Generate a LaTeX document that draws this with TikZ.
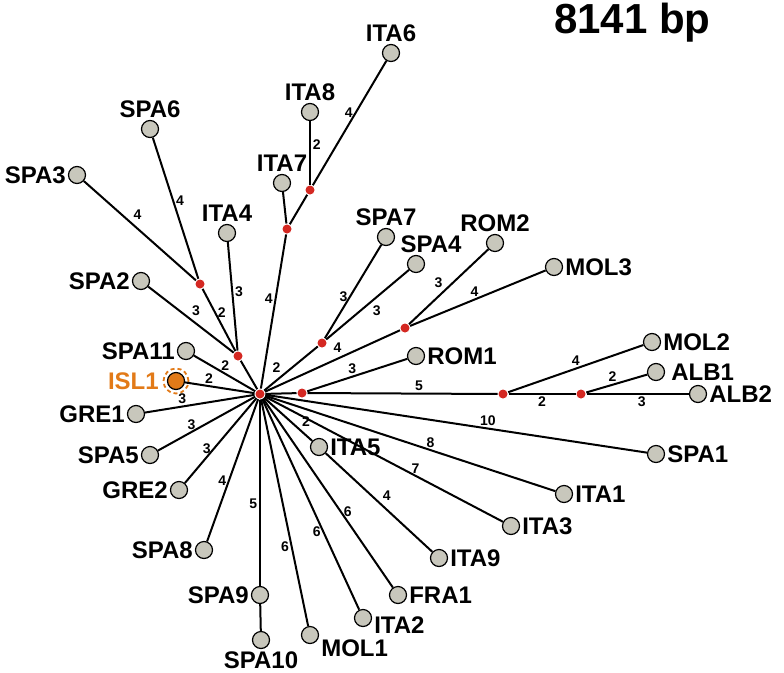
\documentclass[tikz,border=0pt]{standalone}
\usepackage{fontspec}
\setmainfont{Liberation Sans}
\definecolor{hapgray}{RGB}{200,199,188}
\definecolor{medred}{RGB}{212,40,34}
\definecolor{islorange}{RGB}{226,122,24}
\begin{document}
\begin{tikzpicture}[x=1pt, y=-1pt, line width=2pt,
		hap/.style={circle, draw, line width=1.2pt, fill=hapgray, minimum size=17pt, inner sep=0pt},
		med/.style={circle, fill=medred, minimum size=9pt, inner sep=0pt},
		el/.style={font=\fontsize{14}{16}\selectfont\bfseries, inner sep=1.8pt},
		every label/.style={font=\fontsize{24}{27}\selectfont\bfseries, inner sep=1.2pt}]
	\useasboundingbox (0,0) rectangle (784,672);
	\node[font=\fontsize{42}{46}\selectfont\bfseries, anchor=base west, inner sep=0pt] (title) at (553,33) {8141 bp};
	% haplotypes
	\node[hap, label=above:ITA6] (ita6) at (391,53) {};
	\node[hap, label=above:ITA8] (ita8) at (310,112) {};
	\node[hap, label=above:ITA7] (ita7) at (282,183) {};
	\node[hap, label=above:SPA6] (spa6) at (150,129) {};
	\node[hap, label=left:SPA3] (spa3) at (77,175) {};
	\node[hap, label=above:ITA4] (ita4) at (227,233) {};
	\node[hap, label=above:SPA7] (spa7) at (386,237) {};
	\node[hap, label={[xshift=15pt]above:SPA4}] (spa4) at (416,264) {};
	\node[hap, label=above:ROM2] (rom2) at (495,243) {};
	\node[hap, label=right:MOL3] (mol3) at (554,267) {};
	\node[hap, label=left:SPA2] (spa2) at (141,281) {};
	\node[hap, label=left:SPA11] (spa11) at (186,351) {};
	\node[hap, fill=islorange, label={[text=islorange, xshift=-6pt]left:ISL1}] (isl1) at (176,381) {};
	\node[hap, label=left:GRE1] (gre1) at (136,414) {};
	\node[hap, label=left:SPA5] (spa5) at (150,455) {};
	\node[hap, label=left:GRE2] (gre2) at (179,490) {};
	\node[hap, label=left:SPA8] (spa8) at (204,550) {};
	\node[hap, label=left:SPA9] (spa9) at (260,595) {};
	\node[hap, label=below:SPA10] (spa10) at (261,640) {};
	\node[hap, label={[yshift=-13pt]right:MOL1}] (mol1) at (310,635) {};
	\node[hap, label={[yshift=-7pt]right:ITA2}] (ita2) at (363,618) {};
	\node[hap, label=right:FRA1] (fra1) at (398,595) {};
	\node[hap, label=right:ITA9] (ita9) at (439,558) {};
	\node[hap, label=right:ITA3] (ita3) at (511,526) {};
	\node[hap, label=right:ITA1] (ita1) at (564,494) {};
	\node[hap, label=right:SPA1] (spa1) at (656,454) {};
	\node[hap, label=right:ITA5] (ita5) at (319,447) {};
	\node[hap, label=right:ROM1] (rom1) at (416,356) {};
	\node[hap, label=right:MOL2] (mol2) at (652,342) {};
	\node[hap, label={[xshift=4pt]right:ALB1}] (alb1) at (656,372) {};
	\node[hap, label=right:ALB2] (alb2) at (698,394) {};
	\draw[islorange, line width=1.8pt, dash pattern=on 4pt off 3pt] (isl1) circle (12.5pt);
	% median vectors
	\node[med] (hub) at (260,394) {};
	\node[med] (m1) at (287,229) {};
	\node[med] (m2) at (310,190) {};
	\node[med] (m3) at (238,356) {};
	\node[med] (m4) at (200,284) {};
	\node[med] (m5) at (302,393) {};
	\node[med] (m6) at (503,394) {};
	\node[med] (m7) at (581,394) {};
	\node[med] (m8) at (322,343) {};
	\node[med] (m9) at (405,328) {};
	% links
	\draw (hub) -- node[el, pos=.58, left] {4} (m1);
	\draw (m1) -- (ita7);
	\draw (m1) -- (m2);
	\draw (m2) -- node[el, pos=.63, right] {2} (ita8);
	\draw (m2) -- node[el, pos=.58, left] {4} (ita6);
	\draw (hub) -- (m3);
	\draw (m3) -- node[el, pos=.62, right] {2} (m4);
	\draw (m3) -- node[el, pos=.54, right] {3} (ita4);
	\draw (m3) -- node[el, pos=.52, above right] {3} (spa2);
	\draw (m4) -- node[el, pos=.55, right] {4} (spa6);
	\draw (m4) -- node[el, pos=.58, above right] {4} (spa3);
	\draw (hub) -- node[el, pos=.49, above] {2} (spa11);
	\draw (hub) -- node[el, pos=.655, above] {2} (isl1);
	\draw (hub) -- node[el, pos=.66, above] {3} (gre1);
	\draw (hub) -- node[el, pos=.655, above] {3} (spa5);
	\draw (hub) -- node[el, pos=.6, left] {3} (gre2);
	\draw (hub) -- node[el, pos=.57, left] {4} (spa8);
	\draw (hub) -- node[el, pos=.56, left] {5} (spa9);
	\draw (spa9) -- (spa10);
	\draw (hub) -- node[el, pos=.65, left] {6} (mol1);
	\draw (hub) -- node[el, pos=.63, left] {6} (ita2);
	\draw (hub) -- node[el, pos=.6, right] {6} (fra1);
	\draw (hub) -- node[el, pos=.73, above right] {2} (ita5);
	\draw (ita5) -- node[el, pos=.51, above right] {4} (ita9);
	\draw (hub) -- node[el, pos=.633, above] {7} (ita3);
	\draw (hub) -- node[el, pos=.57, above] {8} (ita1);
	\draw (hub) -- node[el, pos=.583, above] {10} (spa1);
	\draw (hub) -- (m5);
	\draw (m5) -- node[el, pos=.45, above] {3} (rom1);
	\draw (m5) -- node[el, pos=.587, above] {5} (m6);
	\draw (m6) -- node[el, pos=.5, above] {4} (mol2);
	\draw (m6) -- node[el, pos=.5, below] {2} (m7);
	\draw (m7) -- node[el, pos=.43, above] {2} (alb1);
	\draw (m7) -- node[el, pos=.54, below] {3} (alb2);
	\draw (hub) -- node[el, pos=.355, above left] {2} (m8);
	\draw (m8) -- node[el, pos=.45, left] {3} (spa7);
	\draw (m8) -- node[el, pos=.53, below right] {3} (spa4);
	\draw (hub) -- node[el, pos=.586, above left] {4} (m9);
	\draw (m9) -- node[el, pos=.456, above left] {3} (rom2);
	\draw (m9) -- node[el, pos=.476, above] {4} (mol3);
\end{tikzpicture}
\end{document}
